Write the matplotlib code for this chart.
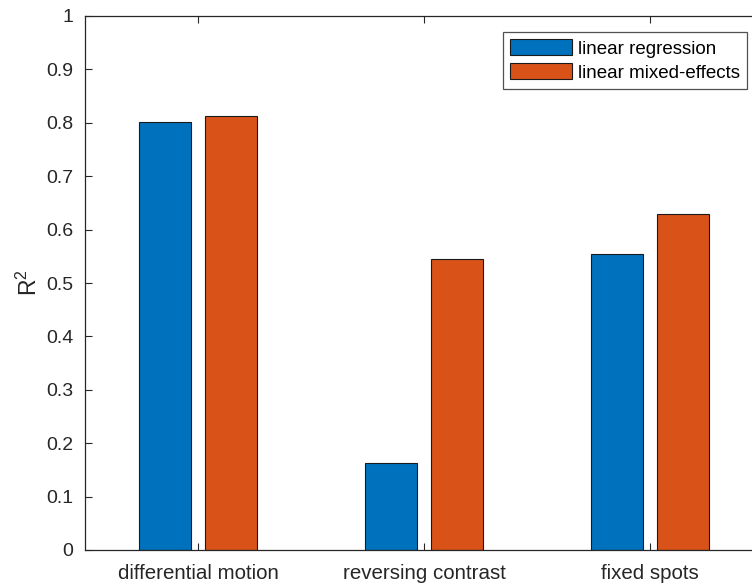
import numpy as np
import matplotlib
matplotlib.use("Agg")
import matplotlib.pyplot as plt

plt.rcParams['font.family'] = ['Liberation Sans', 'DejaVu Sans']
plt.rcParams['mathtext.default'] = 'regular'

conditions = ["differential motion", "reversing contrast", "fixed spots"]
r2_linear = [0.801, 0.163, 0.554]
r2_mixed = [0.813, 0.545, 0.629]

blue = "#0072BD"
orange = "#D95319"
axcol = "#262626"

fig = plt.figure(figsize=(7.52, 5.88), dpi=100)
# right edge of the axes runs past the figure border
ax = fig.add_axes([85 / 752, 38 / 588, 678 / 752, 534 / 588])

x = np.arange(1, len(conditions) + 1)
w = 0.23
off = 0.146
ax.bar(x - off, r2_linear, w, color=blue, edgecolor="#1a1a1a", linewidth=0.8,
       label="linear regression")
ax.bar(x + off, r2_mixed, w, color=orange, edgecolor="#1a1a1a", linewidth=0.8,
       label="linear mixed-effects")

ax.set_xlim(0.5, 3.5)
ax.set_ylim(0, 1)
ax.set_xticks(x)
ax.set_xticklabels(conditions)
ax.set_yticks(np.arange(0, 1.01, 0.1))
ax.set_yticklabels(["0"] + ["%.1f" % v for v in np.arange(0.1, 0.95, 0.1)] + ["1"])
ax.tick_params(direction="in", length=5, width=0.8, colors=axcol,
               top=True, right=True)
ax.tick_params(axis="x", labelsize=14.8, pad=10)
ax.tick_params(axis="y", labelsize=14, pad=8.5)
for s in ax.spines.values():
    s.set_color(axcol)
    s.set_linewidth(0.9)

ax.set_ylabel("R$^2$", fontsize=16.5, color=axcol, labelpad=3)

leg = ax.legend(loc="upper left", fontsize=13.5, frameon=True, fancybox=False,
                borderpad=0.38, handlelength=3.3, handleheight=0.95,
                handletextpad=0.3, labelspacing=0.3, borderaxespad=0)
leg.get_frame().set_edgecolor(axcol)
leg.get_frame().set_linewidth(0.9)
leg.set_bbox_to_anchor(((503 - 85) / 678, (550 - 32) / 534), transform=ax.transAxes)

fig.savefig("out.png", dpi=100)
